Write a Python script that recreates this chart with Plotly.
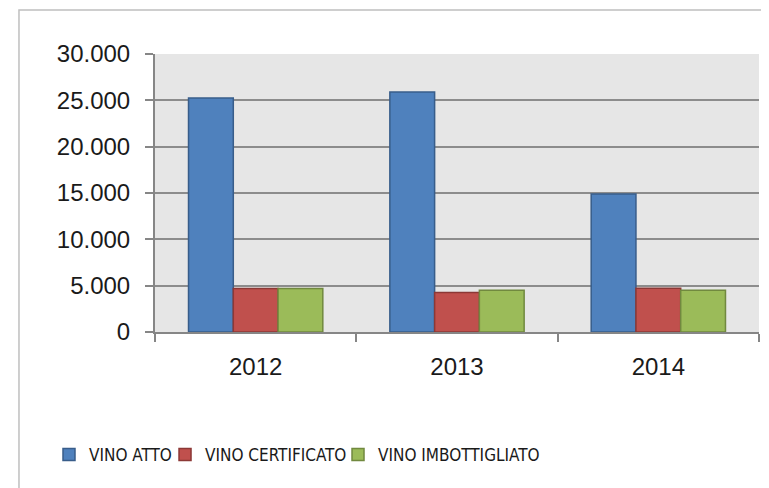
import plotly.graph_objects as go

years = ["2012", "2013", "2014"]
vino_atto = [25240, 25890, 14890]
vino_certificato = [4690, 4260, 4730]
vino_imbottigliato = [4690, 4510, 4510]
y_ticks = [0, 5000, 10000, 15000, 20000, 25000, 30000]
y_tick_labels = ["0", "5.000", "10.000", "15.000", "20.000", "25.000", "30.000"]

series = [
    ("VINO ATTO", vino_atto, "#4F81BD", "#385D8A", "legend"),
    ("VINO CERTIFICATO", vino_certificato, "#C0504D", "#8C3836", "legend2"),
    ("VINO IMBOTTIGLIATO", vino_imbottigliato, "#9BBB59", "#71893F", "legend3"),
]

fig = go.Figure()
for name, vals, fill, edge, leg in series:
    fig.add_trace(go.Bar(x=years, y=vals, name=name, legend=leg,
                         marker=dict(color=fill, line=dict(color=edge, width=1.5))))

legend_font = dict(family="DejaVu Sans Condensed, Liberation Sans", size=17, color="#1a1a1a")
legend_common = dict(orientation="h", xanchor="left", y=-0.442, yanchor="middle",
                     font=legend_font, itemwidth=30, bgcolor="rgba(0,0,0,0)")

fig.update_layout(
    width=761, height=480,
    margin=dict(l=147, r=10, t=46, b=156),
    paper_bgcolor="white",
    plot_bgcolor="#E6E6E6",
    barmode="group", bargap=0.333, bargroupgap=0,
    font=dict(family="Liberation Sans", size=24, color="#1a1a1a"),
    showlegend=True,
    legend=dict(x=-0.1755, **legend_common),
    legend2=dict(x=0.0166, **legend_common),
    legend3=dict(x=0.303, **legend_common),
    xaxis=dict(type="category", showline=True, linecolor="#868686", linewidth=2,
               ticks="outside", tickson="boundaries", ticklen=8, tickcolor="#868686",
               tickwidth=2, showgrid=False, ticklabelstandoff=12),
    yaxis=dict(range=[0, 30000], tickvals=y_ticks, ticktext=y_tick_labels,
               showline=True, linecolor="#868686", linewidth=2,
               ticks="outside", ticklen=8, tickcolor="#868686", tickwidth=2,
               showgrid=True, gridcolor="#8C8C8C", gridwidth=1.5, zeroline=False,
               ticklabelstandoff=10),
    shapes=[dict(type="rect", xref="paper", yref="paper",
                 x0=-0.2252, x1=1.03, y0=-0.6, y1=1.158,
                 line=dict(color="#BFBFBF", width=1.5), fillcolor="rgba(0,0,0,0)",
                 layer="below")],
)

fig.write_html("out.html")
